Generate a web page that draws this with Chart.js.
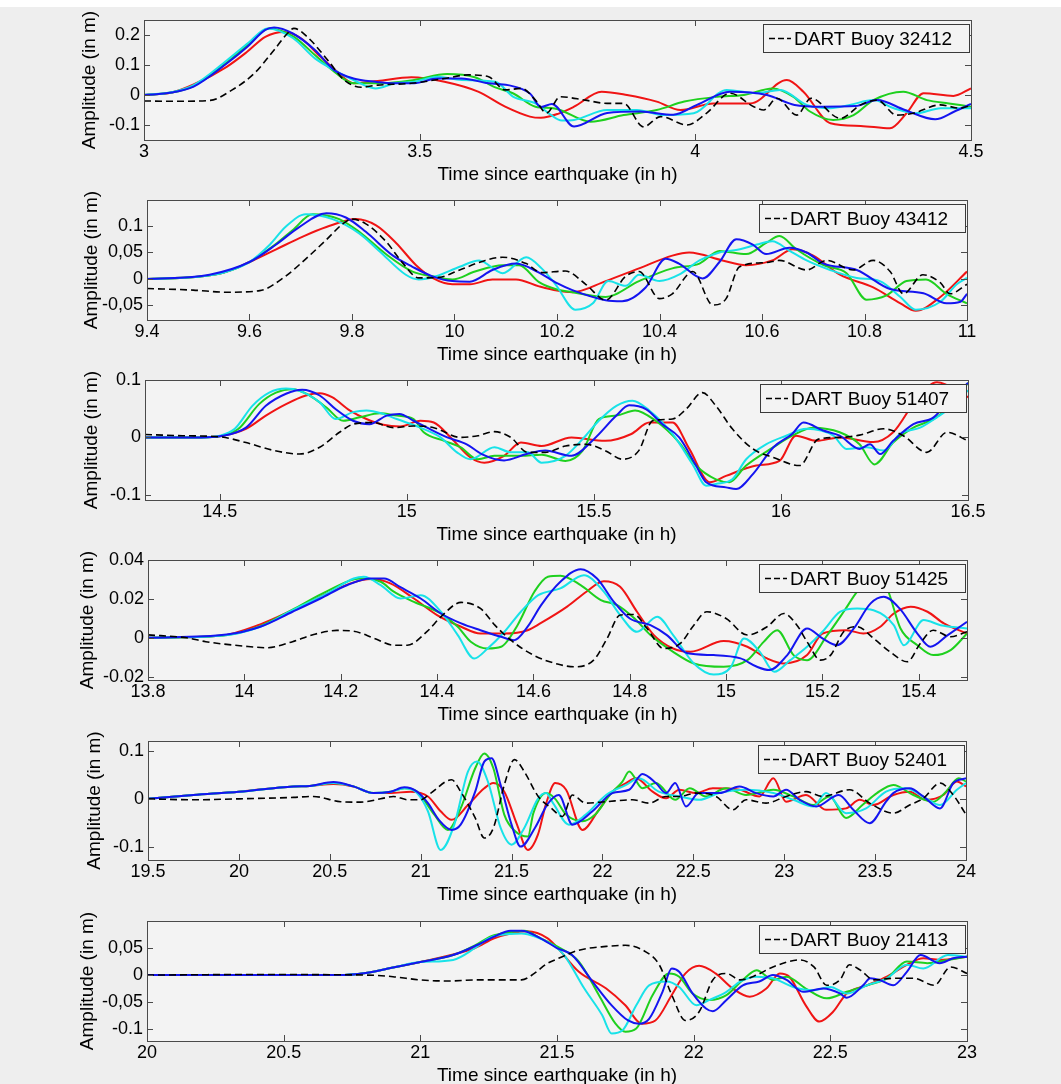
<!DOCTYPE html>
<html><head><meta charset="utf-8">
<script src="https://cdn.jsdelivr.net/npm/chart.js@4.4.0/dist/chart.umd.min.js"></script>
<style>
html,body{margin:0;padding:0;background:#eeeeee;}
#wrap{position:relative;width:1061px;height:1084px;overflow:hidden;background:linear-gradient(#ffffff 0,#ffffff 7px,#eeeeee 7px);}
#wrap canvas{position:absolute;left:0;}
</style></head>
<body><div id="wrap"></div>
<script>
// ---------------- DATA ----------------
const buoyIds = ['32412','43412','51407','51425','52401','21413'];
const xRanges = [[3,4.5],[9.4,11],[14.3,16.5],[13.8,15.5],[19.5,24],[20,23]];
const yRanges = [[-0.15,0.25],[-0.0774,0.149],[-0.109,0.1],[-0.0217,0.04],[-0.128,0.121],[-0.122,0.1]];
const xTickVals = [[3,3.5,4,4.5],[9.4,9.6,9.8,10,10.2,10.4,10.6,10.8,11],[14.5,15,15.5,16,16.5],[13.8,14,14.2,14.4,14.6,14.8,15,15.2,15.4],[19.5,20,20.5,21,21.5,22,22.5,23,23.5,24],[20,20.5,21,21.5,22,22.5,23]];
const xTickLabels = [['3','3.5','4','4.5'],['9.4','9.6','9.8','10','10.2','10.4','10.6','10.8','11'],['14.5','15','15.5','16','16.5'],['13.8','14','14.2','14.4','14.6','14.8','15','15.2','15.4'],['19.5','20','20.5','21','21.5','22','22.5','23','23.5','24'],['20','20.5','21','21.5','22','22.5','23']];
const yTickVals = [[-0.1,0,0.1,0.2],[-0.05,0,0.05,0.1],[-0.1,0,0.1],[-0.02,0,0.02,0.04],[-0.1,0,0.1],[-0.1,-0.05,0,0.05]];
const yTickLabels = [['-0.1','0','0.1','0.2'],['-0,05','0','0,05','0.1'],['-0.1','0','0.1'],['-0.02','0','0.02','0.04'],['-0.1','0','0.1'],['-0.1','-0,05','0','0,05']];

// Buoy 32412
const dart_32412 = [[3,-0.02],[3.06,-0.021],[3.12,-0.018],[3.16,0.017],[3.2,0.072],[3.236,0.15],[3.26,0.205],[3.272,0.222],[3.296,0.194],[3.333,0.117],[3.363,0.05],[3.394,0.026],[3.424,0.033],[3.485,0.039],[3.545,0.055],[3.588,0.067],[3.625,0.061],[3.655,0.017],[3.685,0.022],[3.71,-0.017],[3.73,-0.06],[3.755,-0.006],[3.8,-0.017],[3.84,-0.028],[3.87,-0.028],[3.906,-0.106],[3.937,-0.072],[3.985,-0.1],[4.02,-0.061],[4.063,0.006],[4.106,-0.039],[4.124,-0.05],[4.148,-0.011],[4.184,-0.067],[4.21,-0.011],[4.263,-0.078],[4.3,-0.033],[4.33,-0.017],[4.365,-0.067],[4.395,-0.061],[4.444,-0.033],[4.48,-0.044],[4.5,-0.035]];
const red_32412 = [[3,0],[3.05,0.008],[3.09,0.035],[3.15,0.094],[3.187,0.144],[3.22,0.194],[3.254,0.21],[3.284,0.19],[3.32,0.128],[3.35,0.078],[3.38,0.039],[3.424,0.047],[3.485,0.059],[3.545,0.044],[3.606,0.011],[3.655,-0.039],[3.7,-0.072],[3.72,-0.076],[3.752,-0.062],[3.78,-0.039],[3.83,0.011],[3.876,0],[3.93,-0.022],[3.973,-0.05],[4.033,-0.028],[4.1,-0.028],[4.166,0.05],[4.196,0.011],[4.245,-0.094],[4.3,-0.103],[4.353,-0.111],[4.383,-0.061],[4.414,0.006],[4.468,-0.003],[4.5,0.022]];
const green_32412 = [[3,0],[3.05,0.008],[3.09,0.03],[3.15,0.108],[3.19,0.17],[3.227,0.222],[3.272,0.194],[3.31,0.133],[3.345,0.078],[3.38,0.039],[3.43,0.039],[3.49,0.05],[3.55,0.07],[3.6,0.059],[3.636,0.026],[3.67,0.005],[3.71,-0.039],[3.745,-0.045],[3.81,-0.089],[3.87,-0.067],[3.93,-0.05],[3.98,-0.022],[4.04,-0.006],[4.088,0],[4.14,0.022],[4.178,-0.006],[4.208,-0.055],[4.25,-0.083],[4.287,-0.067],[4.323,-0.017],[4.377,0.011],[4.42,-0.017],[4.46,-0.028],[4.5,-0.039]];
const cyan_32412 = [[3,0],[3.05,0.009],[3.09,0.033],[3.15,0.115],[3.19,0.175],[3.224,0.222],[3.27,0.19],[3.31,0.122],[3.345,0.083],[3.38,0.05],[3.42,0.022],[3.455,0.039],[3.49,0.044],[3.533,0.061],[3.576,0.05],[3.637,0.044],[3.67,-0.006],[3.71,-0.028],[3.734,-0.061],[3.758,-0.085],[3.78,-0.083],[3.84,-0.05],[3.894,-0.05],[3.943,-0.067],[3.997,-0.061],[4.057,0.017],[4.11,0.006],[4.154,0.017],[4.202,-0.033],[4.245,-0.044],[4.28,-0.033],[4.323,-0.017],[4.36,-0.044],[4.4,-0.061],[4.445,-0.044],[4.5,-0.044]];
const blue_32412 = [[3,0],[3.05,0.008],[3.09,0.028],[3.15,0.105],[3.187,0.16],[3.22,0.217],[3.236,0.225],[3.27,0.205],[3.31,0.15],[3.345,0.083],[3.38,0.055],[3.42,0.044],[3.455,0.039],[3.49,0.039],[3.533,0.055],[3.576,0.055],[3.625,0.039],[3.66,0.033],[3.7,0.005],[3.72,-0.04],[3.74,-0.03],[3.78,-0.105],[3.84,-0.06],[3.9,-0.055],[3.96,-0.066],[4.003,-0.033],[4.063,0.011],[4.13,0],[4.18,-0.033],[4.23,-0.039],[4.29,-0.037],[4.33,-0.017],[4.38,-0.05],[4.435,-0.081],[4.47,-0.055],[4.5,-0.03]];

// Buoy 43412
const dart_43412 = [[9.4,-0.018],[9.49,-0.021],[9.555,-0.025],[9.62,-0.022],[9.67,0.005],[9.71,0.038],[9.75,0.074],[9.782,0.104],[9.8,0.113],[9.827,0.104],[9.866,0.071],[9.9,0.029],[9.93,0.002],[9.97,0.003],[10.01,0.017],[10.06,0.035],[10.094,0.041],[10.14,0.029],[10.17,0.012],[10.216,0.015],[10.256,-0.01],[10.295,-0.04],[10.334,0.005],[10.36,0.014],[10.4,-0.037],[10.425,-0.028],[10.465,0.014],[10.504,-0.049],[10.53,-0.037],[10.556,0.023],[10.608,0.031],[10.634,0.035],[10.687,0.017],[10.726,0.035],[10.778,0.017],[10.817,0.035],[10.85,0.014],[10.876,-0.028],[10.914,0.008],[10.948,-0.007],[10.967,-0.028],[11,-0.01]];
const red_43412 = [[9.4,0],[9.5,0.004],[9.55,0.012],[9.6,0.032],[9.652,0.056],[9.704,0.08],[9.75,0.098],[9.808,0.113],[9.847,0.101],[9.886,0.068],[9.925,0.026],[9.957,0.002],[9.996,-0.01],[10.03,-0.01],[10.074,-0.001],[10.12,-0.001],[10.165,-0.014],[10.2,-0.022],[10.23,-0.025],[10.295,-0.004],[10.36,0.02],[10.425,0.044],[10.458,0.05],[10.523,0.035],[10.569,0.026],[10.62,0.035],[10.66,0.056],[10.7,0.044],[10.752,0.008],[10.817,-0.016],[10.87,-0.046],[10.9,-0.06],[10.948,-0.034],[11,0.014]];
const green_43412 = [[9.4,0],[9.5,0.004],[9.55,0.012],[9.6,0.032],[9.65,0.065],[9.684,0.092],[9.723,0.122],[9.775,0.113],[9.814,0.089],[9.866,0.047],[9.918,0.014],[9.957,0.005],[9.996,-0.001],[10.04,0.014],[10.094,0.026],[10.126,0.026],[10.165,-0.006],[10.2,-0.02],[10.23,-0.025],[10.295,-0.034],[10.36,-0.004],[10.425,0.02],[10.478,0.029],[10.517,0.053],[10.569,0.047],[10.608,0.068],[10.634,0.081],[10.667,0.056],[10.72,0.026],[10.765,0.011],[10.804,-0.039],[10.843,-0.031],[10.882,-0.004],[10.92,-0.001],[10.96,-0.028],[11,-0.046]];
const cyan_43412 = [[9.4,0],[9.5,0.004],[9.55,0.012],[9.6,0.032],[9.64,0.065],[9.67,0.098],[9.71,0.122],[9.762,0.113],[9.814,0.086],[9.853,0.053],[9.905,0.008],[9.93,-0.001],[9.964,0.005],[10.01,0.023],[10.048,0.035],[10.094,0.011],[10.14,0.041],[10.17,0.02],[10.197,-0.01],[10.236,-0.058],[10.27,-0.046],[10.3,-0.004],[10.334,-0.013],[10.36,0.008],[10.4,-0.004],[10.438,0.008],[10.478,0.035],[10.517,0.05],[10.557,0.056],[10.59,0.065],[10.62,0.071],[10.654,0.053],[10.687,0.035],[10.733,0.017],[10.785,0.002],[10.83,-0.004],[10.87,-0.034],[10.9,-0.058],[10.948,-0.043],[10.98,-0.01],[11,0.002]];
const blue_43412 = [[9.4,0],[9.522,0.008],[9.6,0.032],[9.652,0.065],[9.697,0.098],[9.75,0.124],[9.788,0.116],[9.827,0.089],[9.88,0.044],[9.918,0.023],[9.957,0.005],[9.996,-0.004],[10.03,-0.005],[10.074,0.017],[10.12,0.029],[10.165,0.012],[10.2,-0.008],[10.23,-0.021],[10.295,-0.04],[10.327,-0.042],[10.373,-0.016],[10.412,0.038],[10.438,0.029],[10.484,0.001],[10.517,0.032],[10.55,0.075],[10.582,0.065],[10.608,0.047],[10.654,0.059],[10.687,0.05],[10.72,0.029],[10.785,0.017],[10.85,-0.019],[10.915,-0.027],[10.96,-0.046],[10.987,-0.043],[11,-0.028]];

// Buoy 51407
const dart_51407 = [[14.3,0.005],[14.4,0.003],[14.5,0.001],[14.57,-0.009],[14.64,-0.022],[14.713,-0.029],[14.767,-0.017],[14.82,0.009],[14.856,0.023],[14.91,0.026],[14.964,0.017],[15.018,0.02],[15.072,0.017],[15.143,0],[15.19,0.003],[15.234,0.01],[15.278,0],[15.323,-0.026],[15.37,-0.026],[15.424,-0.015],[15.478,-0.012],[15.53,-0.023],[15.576,-0.038],[15.62,-0.023],[15.657,0.029],[15.71,0.032],[15.746,0.049],[15.79,0.078],[15.826,0.055],[15.87,0.015],[15.925,-0.02],[15.98,-0.035],[16.05,-0.049],[16.1,-0.003],[16.157,0],[16.21,0.004],[16.274,0.015],[16.327,0.003],[16.39,-0.026],[16.444,0.009],[16.5,-0.006]];
const red_51407 = [[14.3,0],[14.45,0],[14.5,0.002],[14.57,0.015],[14.623,0.038],[14.677,0.058],[14.73,0.073],[14.767,0.077],[14.8,0.07],[14.847,0.047],[14.892,0.032],[14.937,0.022],[14.982,0.019],[15.036,0.029],[15.072,0.026],[15.117,0],[15.17,-0.035],[15.207,-0.044],[15.26,-0.032],[15.305,-0.009],[15.36,-0.015],[15.44,0],[15.53,-0.006],[15.6,0.006],[15.648,0.026],[15.71,0.026],[15.755,-0.02],[15.81,-0.078],[15.853,-0.067],[15.934,-0.049],[15.996,-0.041],[16.04,0.003],[16.095,-0.006],[16.157,0],[16.247,-0.008],[16.3,0.009],[16.363,0.067],[16.417,0.096],[16.5,0.07]];
const green_51407 = [[14.3,0],[14.45,0],[14.5,0.002],[14.55,0.015],[14.605,0.058],[14.65,0.078],[14.695,0.084],[14.74,0.073],[14.785,0.052],[14.83,0.029],[14.874,0.035],[14.928,0.042],[14.973,0.038],[15.018,0.032],[15.045,0.009],[15.1,-0.006],[15.143,-0.017],[15.19,-0.038],[15.234,-0.032],[15.305,-0.032],[15.36,-0.03],[15.424,-0.041],[15.47,-0.023],[15.513,0.032],[15.56,0.038],[15.61,0.047],[15.665,0.029],[15.728,-0.009],[15.773,-0.049],[15.826,-0.073],[15.862,-0.078],[15.907,-0.049],[15.98,-0.017],[16.03,0.003],[16.085,0.017],[16.157,0.009],[16.21,-0.012],[16.25,-0.047],[16.3,-0.009],[16.354,0.017],[16.408,0.032],[16.453,0.055],[16.5,0.095]];
const cyan_51407 = [[14.3,0],[14.45,0],[14.5,0.003],[14.54,0.015],[14.587,0.055],[14.632,0.078],[14.677,0.085],[14.713,0.081],[14.767,0.061],[14.81,0.032],[14.856,0.044],[14.892,0.047],[14.937,0.041],[14.973,0.032],[15.036,0.017],[15.09,0],[15.134,-0.026],[15.17,-0.038],[15.234,-0.017],[15.278,-0.026],[15.323,-0.026],[15.36,-0.044],[15.424,-0.032],[15.478,0.003],[15.513,0.029],[15.56,0.055],[15.603,0.064],[15.648,0.047],[15.71,0.006],[15.764,-0.047],[15.8,-0.084],[15.826,-0.081],[15.87,-0.073],[15.907,-0.038],[15.96,-0.012],[16.014,0.003],[16.068,0.015],[16.14,0.003],[16.175,-0.02],[16.23,-0.017],[16.274,-0.023],[16.318,0.006],[16.372,0.017],[16.417,0.035],[16.46,0.055],[16.5,0.082]];
const blue_51407 = [[14.3,0],[14.45,0],[14.5,0.002],[14.57,0.017],[14.623,0.055],[14.677,0.076],[14.72,0.083],[14.767,0.073],[14.81,0.049],[14.856,0.029],[14.9,0.023],[14.946,0.038],[14.98,0.041],[15.018,0.029],[15.054,0.017],[15.108,0],[15.16,-0.012],[15.2,-0.029],[15.26,-0.04],[15.32,-0.029],[15.37,-0.023],[15.44,-0.032],[15.5,-0.003],[15.56,0.038],[15.594,0.056],[15.64,0.049],[15.683,0.023],[15.728,0],[15.773,-0.049],[15.8,-0.078],[15.853,-0.087],[15.88,-0.09],[15.925,-0.064],[15.98,-0.017],[16.03,0.006],[16.06,0.026],[16.113,0.012],[16.157,0.003],[16.21,-0.02],[16.238,-0.012],[16.265,-0.029],[16.3,-0.006],[16.354,0.023],[16.408,0.035],[16.453,0.067],[16.5,0.095]];

// Buoy 51425
const dart_51425 = [[13.8,0.0015],[13.88,0],[13.92,-0.002],[14.0,-0.0043],[14.047,-0.0051],[14.1,-0.002],[14.144,0.0017],[14.192,0.0038],[14.227,0.0034],[14.27,-0.0003],[14.31,-0.0038],[14.338,-0.0038],[14.38,0.0034],[14.408,0.0108],[14.45,0.0182],[14.49,0.0151],[14.52,0.0065],[14.553,-0.0012],[14.6,-0.0089],[14.65,-0.0135],[14.684,-0.0149],[14.725,-0.0115],[14.753,-0.0003],[14.78,0.0117],[14.808,0.012],[14.836,0.0048],[14.87,-0.0055],[14.905,-0.0029],[14.933,0.0065],[14.96,0.0134],[15.0,0.0099],[15.044,0.0014],[15.085,0.0057],[15.12,0.0125],[15.147,0.0065],[15.168,-0.002],[15.196,-0.0115],[15.217,-0.0089],[15.244,0.0031],[15.272,0.0057],[15.306,-0.0003],[15.34,-0.0072],[15.376,-0.0123],[15.403,-0.0029],[15.43,0.0039],[15.466,0.0005],[15.5,0.0031]];
const red_51425 = [[13.8,0],[13.95,0.001],[14.033,0.0069],[14.1,0.0142],[14.172,0.0228],[14.227,0.0285],[14.262,0.0302],[14.303,0.028],[14.352,0.0202],[14.4,0.0117],[14.45,0.0057],[14.49,0.0022],[14.54,0.0022],[14.588,0.0039],[14.615,0.0075],[14.67,0.016],[14.71,0.0237],[14.746,0.0291],[14.78,0.0262],[14.815,0.0134],[14.85,0.0014],[14.89,-0.0055],[14.926,-0.0072],[14.995,-0.0017],[15.044,-0.0046],[15.085,-0.0106],[15.12,-0.0132],[15.168,-0.0089],[15.2,0.0022],[15.25,0.0039],[15.285,0.0022],[15.32,0.0057],[15.348,0.0125],[15.383,0.016],[15.418,0.0134],[15.452,0.0074],[15.5,0.0022]];
const green_51425 = [[13.8,0],[13.95,0.001],[14.033,0.006],[14.1,0.0145],[14.172,0.024],[14.24,0.0305],[14.283,0.0288],[14.31,0.0237],[14.352,0.0185],[14.408,0.0125],[14.443,0.0057],[14.47,-0.002],[14.505,-0.0055],[14.533,-0.0046],[14.567,0.0065],[14.602,0.0237],[14.63,0.0314],[14.656,0.0319],[14.698,0.0271],[14.74,0.0194],[14.774,0.0168],[14.81,0.0099],[14.843,0.0014],[14.89,-0.0072],[14.933,-0.0132],[14.995,-0.0149],[15.044,-0.0115],[15.078,-0.0021],[15.106,0.0039],[15.14,-0.0089],[15.168,-0.0115],[15.21,0.0014],[15.244,0.0134],[15.272,0.0237],[15.306,0.0322],[15.334,0.0254],[15.362,0.0048],[15.397,-0.0038],[15.43,-0.0089],[15.466,-0.0063],[15.5,0.0022]];
const cyan_51425 = [[13.8,0],[13.95,0.001],[14.033,0.0057],[14.1,0.0142],[14.172,0.0228],[14.227,0.0305],[14.248,0.0314],[14.283,0.0271],[14.324,0.0202],[14.366,0.0219],[14.408,0.0134],[14.443,0.0014],[14.477,-0.0106],[14.505,-0.0055],[14.54,0.0031],[14.574,0.0134],[14.61,0.0219],[14.656,0.0254],[14.705,0.0322],[14.746,0.0237],[14.78,0.0117],[14.815,0.0031],[14.857,0.0108],[14.89,0.0014],[14.933,-0.0132],[14.974,-0.0189],[15.01,-0.0149],[15.037,-0.0003],[15.07,-0.0072],[15.1,-0.0175],[15.133,-0.0115],[15.168,-0.0046],[15.2,0.0031],[15.237,0.0134],[15.272,0.0151],[15.306,0.0142],[15.348,0.0065],[15.369,-0.0038],[15.41,0.0091],[15.445,0.0065],[15.5,0.0048]];
const blue_51425 = [[13.8,0],[13.963,0.0017],[14.033,0.0057],[14.1,0.0134],[14.158,0.0202],[14.213,0.027],[14.262,0.0305],[14.29,0.0305],[14.324,0.026],[14.366,0.0202],[14.408,0.0125],[14.45,0.0074],[14.49,0.0039],[14.533,0.0005],[14.56,-0.0012],[14.588,0.0057],[14.616,0.0168],[14.656,0.0288],[14.698,0.0353],[14.732,0.0305],[14.767,0.0185],[14.8,0.0099],[14.843,0.0065],[14.877,0.0014],[14.92,-0.008],[14.974,-0.0089],[15.03,-0.0106],[15.064,-0.0149],[15.09,-0.0166],[15.127,-0.0089],[15.168,0.0048],[15.2,-0.0003],[15.23,-0.0038],[15.265,0.0048],[15.3,0.0177],[15.327,0.0211],[15.36,0.0151],[15.397,0.0022],[15.424,-0.0046],[15.46,0.0014],[15.5,0.0082]];

// Buoy 52401
const dart_52401 = [[19.5,0],[19.75,-0.002],[20.0,0],[20.3,0.003],[20.41,0.005],[20.56,-0.006],[20.67,-0.007],[20.78,0],[20.85,0.005],[20.93,-0.002],[21.0,-0.002],[21.056,0.012],[21.17,0.04],[21.22,0.015],[21.3,-0.04],[21.35,-0.082],[21.4,-0.061],[21.46,0.029],[21.516,0.082],[21.57,0.057],[21.645,0.006],[21.72,-0.02],[21.78,-0.037],[21.835,0.008],[21.908,-0.009],[22.02,-0.006],[22.165,-0.002],[22.257,-0.009],[22.35,0.005],[22.423,0.005],[22.515,0.012],[22.625,0.005],[22.717,-0.023],[22.79,-0.002],[22.9,-0.009],[23.01,0.005],[23.12,0.015],[23.213,0.005],[23.36,0.019],[23.47,-0.009],[23.6,-0.03],[23.69,-0.013],[23.765,0.001],[23.857,0.033],[23.93,0.008],[24,-0.033]];
const red_52401 = [[19.5,0],[19.75,0.008],[20.0,0.015],[20.3,0.026],[20.39,0.027],[20.52,0.031],[20.63,0.026],[20.74,0.012],[20.835,0.012],[20.945,0.015],[21.04,0.005],[21.11,-0.026],[21.17,-0.044],[21.26,-0.013],[21.35,0.022],[21.4,0.033],[21.46,0.015],[21.53,-0.054],[21.59,-0.107],[21.645,-0.075],[21.69,-0.01],[21.74,0.033],[21.8,0.019],[21.89,-0.065],[21.98,-0.023],[22.055,0.015],[22.13,0.033],[22.184,0.043],[22.276,0.015],[22.35,0.001],[22.423,0.019],[22.515,0.012],[22.607,0.022],[22.754,0.019],[22.864,0.005],[22.94,0.043],[23.01,-0.006],[23.12,0.008],[23.23,-0.023],[23.34,-0.02],[23.415,-0.002],[23.49,-0.013],[23.6,0.008],[23.69,0.015],[23.78,-0.002],[23.875,0.008],[23.95,0.036],[24,0.026]];
const green_52401 = [[19.5,0],[19.75,0.008],[20.0,0.015],[20.3,0.026],[20.39,0.027],[20.52,0.033],[20.63,0.026],[20.74,0.012],[20.835,0.015],[20.91,0.022],[20.98,0.015],[21.075,-0.033],[21.15,-0.065],[21.22,-0.02],[21.3,0.064],[21.35,0.095],[21.4,0.064],[21.46,-0.033],[21.52,-0.068],[21.59,-0.079],[21.62,-0.03],[21.69,0.012],[21.74,0],[21.8,-0.033],[21.89,-0.047],[21.96,-0.033],[22.04,0.008],[22.11,0.036],[22.147,0.057],[22.22,0.022],[22.294,0.033],[22.4,-0.002],[22.48,0.022],[22.57,0.005],[22.68,0.022],[22.79,0.008],[22.94,0.019],[23.05,0.005],[23.16,-0.013],[23.25,0.005],[23.34,-0.04],[23.43,-0.013],[23.51,0.012],[23.6,0.029],[23.71,0.008],[23.82,-0.006],[23.89,0.015],[23.96,0.043],[24,0.036]];
const cyan_52401 = [[19.5,0],[19.75,0.008],[20.0,0.015],[20.3,0.026],[20.39,0.027],[20.52,0.033],[20.63,0.026],[20.74,0.012],[20.835,0.015],[20.91,0.022],[20.98,0.012],[21.04,-0.026],[21.11,-0.107],[21.185,-0.054],[21.26,0.057],[21.31,0.078],[21.37,0.036],[21.44,-0.061],[21.5,-0.096],[21.57,-0.061],[21.645,0],[21.69,0.012],[21.73,-0.01],[21.816,-0.054],[21.908,-0.033],[22.02,0.008],[22.13,0.029],[22.2,0.043],[22.31,0.015],[22.423,0.005],[22.533,-0.002],[22.643,0.012],[22.79,0.019],[22.94,0.012],[23.05,-0.002],[23.16,-0.016],[23.23,0.012],[23.34,-0.03],[23.45,-0.02],[23.56,0.015],[23.67,0.022],[23.78,0.001],[23.857,-0.013],[23.95,0.019],[24,0.033]];
const blue_52401 = [[19.5,0],[19.75,0.008],[20.0,0.015],[20.3,0.026],[20.39,0.027],[20.52,0.035],[20.63,0.026],[20.74,0.012],[20.835,0.015],[20.91,0.024],[20.98,0.015],[21.04,-0.009],[21.1,-0.044],[21.17,-0.065],[21.22,-0.054],[21.3,0.015],[21.35,0.078],[21.39,0.085],[21.44,0.029],[21.5,-0.054],[21.55,-0.1],[21.63,-0.06],[21.7,-0.01],[21.76,0.008],[21.835,-0.054],[21.945,-0.026],[22.055,0.012],[22.147,0.019],[22.22,0.052],[22.294,0.033],[22.35,0.012],[22.4,0.033],[22.46,-0.016],[22.53,0.012],[22.643,0.012],[22.754,0.026],[22.846,0.012],[22.94,0.005],[23.01,0.019],[23.085,-0.002],[23.176,-0.016],[23.3,0.008],[23.38,-0.023],[23.47,-0.051],[23.56,-0.006],[23.6,0.012],[23.69,0.022],[23.765,0.005],[23.857,-0.02],[23.93,0.033],[24,0.043]];

// Buoy 21413
const dart_21413 = [[20,0],[20.4,0.001],[20.8,0],[20.9,-0.003],[21.0,-0.009],[21.1,-0.011],[21.21,-0.009],[21.3,-0.009],[21.37,-0.009],[21.417,0.003],[21.46,0.02],[21.506,0.031],[21.58,0.046],[21.68,0.053],[21.75,0.055],[21.825,0.043],[21.874,0.019],[21.92,-0.037],[21.97,-0.084],[22.02,-0.068],[22.07,-0.009],[22.12,0.003],[22.17,-0.009],[22.23,0],[22.29,0.015],[22.39,0.028],[22.44,0.015],[22.487,-0.019],[22.535,-0.009],[22.57,0.019],[22.61,0.009],[22.66,-0.009],[22.73,-0.006],[22.805,-0.006],[22.88,-0.019],[22.94,0.015],[23,0.003]];
const red_21413 = [[20,0],[20.7,0],[20.8,0.004],[20.9,0.014],[21.0,0.024],[21.12,0.038],[21.2,0.05],[21.27,0.068],[21.33,0.077],[21.39,0.081],[21.466,0.068],[21.506,0.048],[21.58,0.006],[21.68,-0.025],[21.75,-0.056],[21.81,-0.09],[21.86,-0.084],[21.92,-0.037],[21.97,0.003],[22.02,0.017],[22.08,0.003],[22.143,-0.025],[22.205,-0.04],[22.266,-0.025],[22.315,0.003],[22.35,-0.003],[22.41,-0.056],[22.46,-0.086],[22.51,-0.068],[22.56,-0.034],[22.634,-0.019],[22.707,-0.003],[22.78,0.019],[22.84,0.031],[22.9,0.028],[23,0.034]];
const green_21413 = [[20,0],[20.7,0],[20.8,0.004],[20.9,0.014],[21.0,0.024],[21.12,0.037],[21.2,0.055],[21.26,0.072],[21.32,0.079],[21.38,0.082],[21.44,0.068],[21.5,0.053],[21.58,0.025],[21.653,-0.037],[21.714,-0.09],[21.75,-0.105],[21.79,-0.099],[21.85,-0.037],[21.91,0.003],[21.947,-0.003],[21.996,-0.034],[22.058,-0.046],[22.12,-0.037],[22.18,-0.009],[22.23,0.009],[22.29,-0.009],[22.34,-0.003],[22.41,-0.025],[22.487,-0.043],[22.56,-0.031],[22.634,-0.019],[22.707,-0.006],[22.78,0.025],[22.855,0.022],[22.93,0.028],[23,0.034]];
const cyan_21413 = [[20,0],[20.7,0],[20.8,0.004],[20.9,0.014],[21.0,0.024],[21.12,0.028],[21.2,0.05],[21.25,0.068],[21.29,0.074],[21.37,0.077],[21.42,0.071],[21.5,0.05],[21.53,0.034],[21.6,-0.025],[21.665,-0.074],[21.7,-0.108],[21.74,-0.102],[21.79,-0.056],[21.837,-0.019],[21.9,-0.012],[21.947,-0.022],[22.01,-0.056],[22.058,-0.046],[22.12,-0.031],[22.17,-0.012],[22.23,-0.003],[22.29,-0.006],[22.364,-0.022],[22.44,-0.028],[22.5,-0.022],[22.56,-0.034],[22.634,-0.019],[22.707,-0.006],[22.78,0.019],[22.84,0.012],[22.93,0.037],[23,0.034]];
const blue_21413 = [[20,0],[20.7,0],[20.8,0.004],[20.9,0.014],[21.0,0.024],[21.12,0.037],[21.21,0.056],[21.27,0.071],[21.33,0.082],[21.37,0.082],[21.44,0.068],[21.5,0.05],[21.555,0.037],[21.63,-0.012],[21.7,-0.056],[21.76,-0.084],[21.8,-0.09],[21.837,-0.081],[21.886,-0.031],[21.92,0.012],[21.947,0.006],[21.996,-0.034],[22.045,-0.062],[22.07,-0.067],[22.12,-0.046],[22.18,-0.019],[22.24,-0.012],[22.29,0],[22.34,-0.009],[22.4,-0.031],[22.474,-0.025],[22.535,-0.034],[22.56,-0.042],[22.62,-0.019],[22.646,-0.006],[22.68,-0.009],[22.73,-0.019],[22.78,0.006],[22.83,0.037],[22.9,0.022],[22.95,0.031],[23,0.034]];

const dartSeries = [dart_32412, dart_43412, dart_51407, dart_51425, dart_52401, dart_21413];
const redSeries = [red_32412, red_43412, red_51407, red_51425, red_52401, red_21413];
const greenSeries = [green_32412, green_43412, green_51407, green_51425, green_52401, green_21413];
const cyanSeries = [cyan_32412, cyan_43412, cyan_51407, cyan_51425, cyan_52401, cyan_21413];
const blueSeries = [blue_32412, blue_43412, blue_51407, blue_51425, blue_52401, blue_21413];

// ---------------- LAYOUT (pixel boxes of each plot area: left, top, right, bottom) ----------------
const plotBoxes = [[144,20,971,140],[147,200,967,320],[145,380,968,500],[148,560,967,680],[148,741,966,860],[147,921,967,1041]];
const yTitleCenters = [90,92,92,88,95,88];

const FONT = "'Liberation Sans', Arial, Helvetica, sans-serif";
const PLOT_BG = '#f3f3f3';
const FRAME = '#4a4a4a';

const framePlugin = {
  id: 'frame',
  beforeDatasetsDraw(chart) {
    const {ctx, chartArea: a} = chart;
    ctx.save();
    ctx.fillStyle = PLOT_BG;
    ctx.fillRect(a.left, a.top, a.right - a.left, a.bottom - a.top);
    ctx.restore();
  },
  afterDatasetsDraw(chart, args, opts) {
    const {ctx, chartArea: a, scales} = chart;
    const i = opts.idx;
    ctx.save();
    ctx.strokeStyle = FRAME;
    ctx.lineWidth = 1;
    ctx.beginPath();
    const tl = 6;
    xTickVals[i].forEach(v => {
      const px = Math.round(scales.x.getPixelForValue(v)) + 0.5;
      ctx.moveTo(px, a.bottom); ctx.lineTo(px, a.bottom - tl);
      ctx.moveTo(px, a.top); ctx.lineTo(px, a.top + tl);
    });
    yTickVals[i].forEach(v => {
      const py = Math.round(scales.y.getPixelForValue(v)) + 0.5;
      ctx.moveTo(a.left, py); ctx.lineTo(a.left + tl, py);
      ctx.moveTo(a.right, py); ctx.lineTo(a.right - tl, py);
    });
    ctx.stroke();
    ctx.strokeRect(Math.round(a.left) + 0.5, Math.round(a.top) + 0.5, Math.round(a.right - a.left), Math.round(a.bottom - a.top));
    // legend box
    const bw = 206, bh = 28;
    const bx = Math.round(a.right) - 2 - bw, by = Math.round(a.top) + 4;
    ctx.fillStyle = PLOT_BG;
    ctx.fillRect(bx, by, bw, bh);
    ctx.strokeStyle = '#3a3a3a';
    ctx.strokeRect(bx + 0.5, by + 0.5, bw, bh);
    const cy = by + bh / 2 + 0.5;
    ctx.strokeStyle = '#000';
    ctx.lineWidth = 1.6;
    ctx.setLineDash([6, 3]);
    ctx.beginPath(); ctx.moveTo(bx + 6, cy); ctx.lineTo(bx + 28, cy); ctx.stroke();
    ctx.setLineDash([]);
    ctx.fillStyle = '#000';
    ctx.font = '19px ' + FONT;
    ctx.textBaseline = 'middle';
    ctx.textAlign = 'left';
    ctx.fillText('DART Buoy ' + buoyIds[i], bx + 31, cy + 1);
    ctx.restore();
  }
};

const wrap = document.getElementById('wrap');
function toXY(arr) { return arr.map(p => ({x: p[0], y: p[1]})); }

for (let i = 0; i < 6; i++) {
  const B = plotBoxes[i];
  const padTop = 30, axisH = 46;
  const h = (B[3] - B[1]) + padTop + axisH;
  const c = document.createElement('canvas');
  c.width = 1061; c.height = h;
  c.style.width = '1061px'; c.style.height = h + 'px';
  c.style.top = (B[1] - padTop) + 'px';
  wrap.appendChild(c);
  const padLeft = yTitleCenters[i] - 11.4;
  const common = {pointRadius: 0, fill: false, cubicInterpolationMode: 'monotone', borderWidth: 2};
  new Chart(c, {
    type: 'line',
    data: {datasets: [
      Object.assign({label: 'DART Buoy ' + buoyIds[i], data: toXY(dartSeries[i]), borderColor: '#000', borderDash: [7, 4], borderWidth: 1.6}, {pointRadius: 0, fill: false, cubicInterpolationMode: 'monotone'}),
      Object.assign({}, common, {label: 'Model (blue)', data: toXY(blueSeries[i]), borderColor: '#1414f0'}),
      Object.assign({}, common, {label: 'Model (cyan)', data: toXY(cyanSeries[i]), borderColor: '#18e2e8'}),
      Object.assign({}, common, {label: 'Model (green)', data: toXY(greenSeries[i]), borderColor: '#1ed01e'}),
      Object.assign({}, common, {label: 'Model (red)', data: toXY(redSeries[i]), borderColor: '#f01414'})
    ]},
    options: {
      responsive: false, animation: false, devicePixelRatio: 1,
      layout: {padding: {left: padLeft, right: 1061 - B[2], top: padTop, bottom: 0}},
      plugins: {legend: {display: false}, tooltip: {enabled: false}, frame: {idx: i}},
      scales: {
        x: {
          type: 'linear', min: xRanges[i][0], max: xRanges[i][1],
          grid: {display: false, drawTicks: false}, border: {display: false},
          afterBuildTicks: s => { s.ticks = xTickVals[i].map(v => ({value: v})); },
          afterFit: s => { s.height = axisH; },
          ticks: {padding: 1, autoSkip: false, maxRotation: 0, color: '#000', font: {family: FONT, size: 18},
                  callback: (v, idx) => xTickLabels[i][idx]},
          title: {display: true, text: 'Time since earthquake (in h)', color: '#000', font: {family: FONT, size: 19}, padding: {top: 0, bottom: 0}}
        },
        y: {
          type: 'linear', min: yRanges[i][0], max: yRanges[i][1],
          grid: {display: false, drawTicks: false}, border: {display: false},
          afterBuildTicks: s => { s.ticks = yTickVals[i].map(v => ({value: v})); },
          afterFit: s => { s.width = B[0] - padLeft; },
          ticks: {padding: 4, autoSkip: false, color: '#000', font: {family: FONT, size: 18},
                  callback: (v, idx) => yTickLabels[i][idx]},
          title: {display: true, text: 'Amplitude (in m)', color: '#000', font: {family: FONT, size: 19}, padding: {top: 0, bottom: 0}}
        }
      }
    },
    plugins: [framePlugin]
  });
}
</script>
</body></html>
